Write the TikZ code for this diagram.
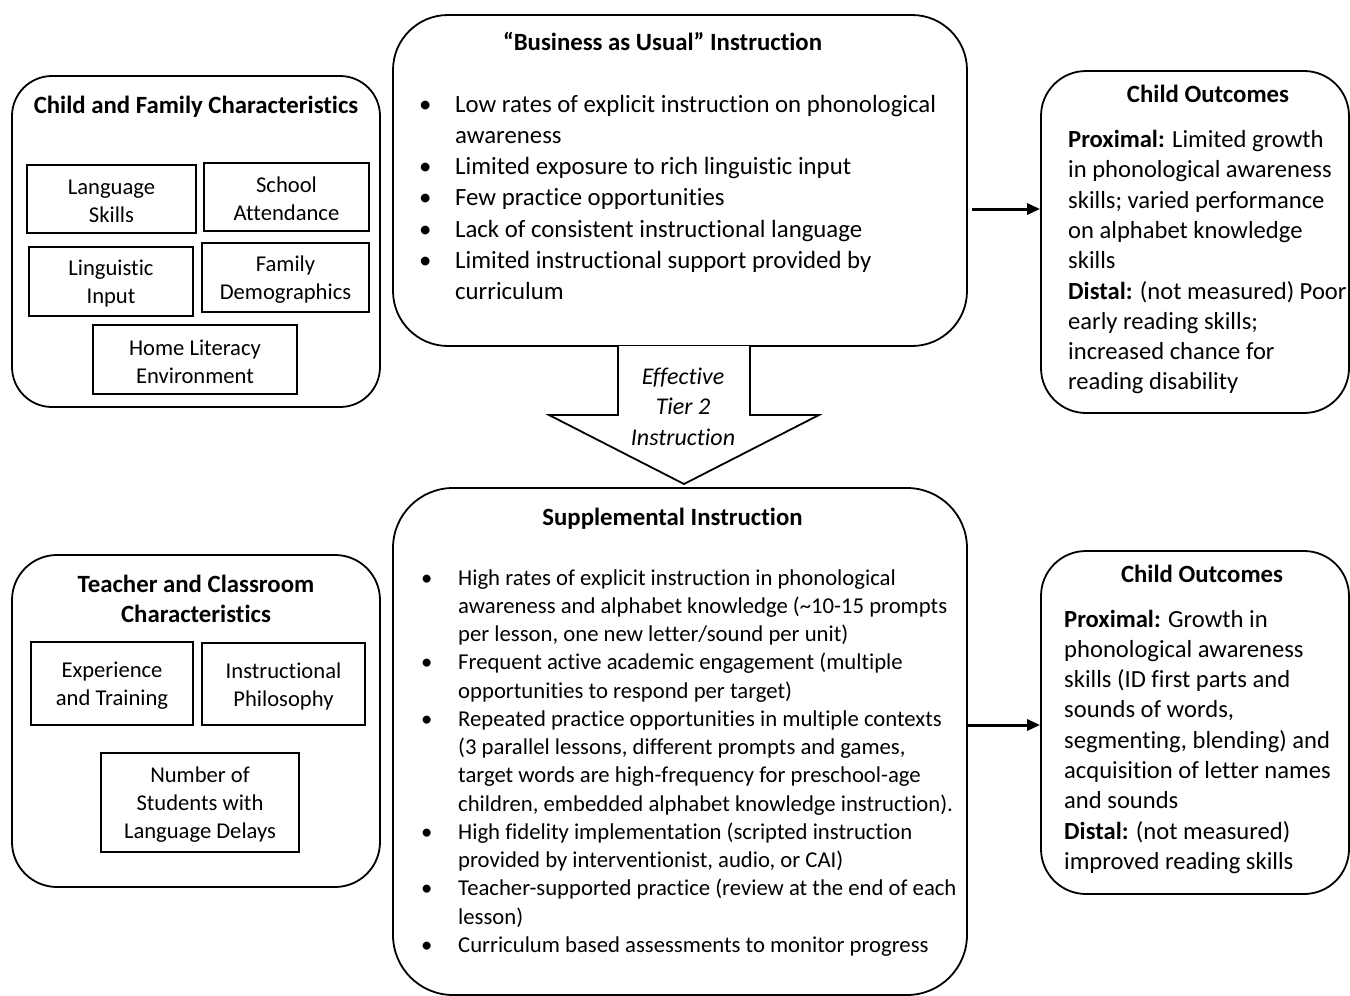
\documentclass[tikz,border=0pt]{standalone}
\usepackage{fontspec}
\setmainfont{Carlito}[Ligatures=NoCommon]
\usepackage{array}
\usetikzlibrary{arrows.meta}
\tikzset{
  outerbox/.style={draw=black, line width=1.8pt, fill=white, inner sep=0pt},
  innerbox/.style={draw=black, line width=1.3pt, inner sep=0pt},
  innertext/.style={inner sep=0pt, align=center, yshift=-2pt,
    font=\fontsize{22.6}{28}\selectfont},
  titletext/.style={inner sep=0pt, anchor=base, font=\fontsize{24.8}{30}\selectfont\bfseries},
  bodytext/.style={inner sep=0pt, anchor=base west},
  flowarrow/.style={line width=3pt, -{Triangle[length=13pt,width=11pt]}},
  blockarrow/.style={draw=black, line width=1.8pt, fill=white, line join=miter}
}
\begin{document}
\begin{tikzpicture}[x=1pt,y=-1pt]
\useasboundingbox (0,0) rectangle (1350,996);
\fill[white] (0,0) rectangle (1350,996);

% ---------- outer rounded boxes ----------
\node[outerbox, rounded corners=40pt, minimum width=368pt, minimum height=331pt] (cf) at (196,241.5) {};
\node[outerbox, rounded corners=55pt, minimum width=574pt, minimum height=331pt] (bau) at (680,180.5) {};
\node[outerbox, rounded corners=45pt, minimum width=308pt, minimum height=342pt] (co1) at (1195,242) {};
\node[outerbox, rounded corners=45pt, minimum width=368pt, minimum height=332pt] (tc) at (196,721) {};
\node[outerbox, rounded corners=60pt, minimum width=574pt, minimum height=507pt] (si) at (680,741.5) {};
\node[outerbox, rounded corners=45pt, minimum width=308pt, minimum height=343pt] (co2) at (1195,722.5) {};

% ---------- block arrow ----------
\draw[blockarrow] (618,346) -- (618,415) -- (549,415) -- (684,484) -- (819,415) -- (750,415) -- (750,346);
\node[inner sep=0pt, anchor=base, font=\fontsize{24}{30.5}\selectfont\itshape] (tier) at (683,384)
  {\begin{tabular}[t]{@{}c@{}}Effective\\Tier 2\\Instruction\end{tabular}};

% ---------- Child and Family ----------
\node[titletext] (cftitle) at (196,113) {Child and Family Characteristics};
\node[innerbox, minimum width=169pt, minimum height=68pt] (cf1) at (111.5,199) {};
\node[innertext] (cf1t) at (cf1.center) {Language\\Skills};
\node[innerbox, minimum width=165pt, minimum height=68pt] (cf2) at (286.5,197) {};
\node[innertext] (cf2t) at (cf2.center) {School\\Attendance};
\node[innerbox, minimum width=164pt, minimum height=69pt] (cf3) at (111,281.5) {};
\node[innertext] (cf3t) at (cf3.center) {Linguistic\\Input};
\node[innerbox, minimum width=167pt, minimum height=69pt] (cf4) at (285.5,277.5) {};
\node[innertext] (cf4t) at (cf4.center) {Family\\Demographics};
\node[innerbox, minimum width=204pt, minimum height=69pt] (cf5) at (195,359.5) {};
\node[innertext] (cf5t) at (cf5.center) {Home Literacy\\Environment};

% ---------- Business as usual ----------
\node[titletext] (bautitle) at (662.5,50) {“Business as Usual” Instruction};
\node[bodytext, font=\fontsize{24.8}{31.3}\selectfont] (baulist) at (419,112)
 {\begin{tabular}[t]{@{}p{36pt}@{}l@{}}
 \textbullet & Low rates of explicit instruction on phonological\\
  & awareness\\
 \textbullet & Limited exposure to rich linguistic input\\
 \textbullet & Few practice opportunities\\
 \textbullet & Lack of consistent instructional language\\
 \textbullet & Limited instructional support provided by\\
  & curriculum
 \end{tabular}};

% ---------- Child outcomes 1 ----------
\node[titletext] (co1title) at (1208,102) {Child Outcomes};
\node[bodytext, font=\fontsize{24.6}{30.3}\selectfont] (co1text) at (1068,147.5)
 {\begin{tabular}[t]{@{}l@{}}
 \textbf{Proximal:} Limited growth\\
 in phonological awareness\\
 skills; varied performance\\
 on alphabet knowledge\\
 skills\\
 \textbf{Distal:} (not measured) Poor\\
 early reading skills;\\
 increased chance for\\
 reading disability
 \end{tabular}};

% ---------- Teacher and Classroom ----------
\node[titletext] (tctitle) at (196,592)
 {\begin{tabular}[t]{@{}c@{}}Teacher and Classroom\\Characteristics\end{tabular}};
\node[innerbox, minimum width=162pt, minimum height=83pt] (tc1) at (112,683.5) {};
\node[innertext] (tc1t) at (tc1.center) {Experience\\and Training};
\node[innerbox, minimum width=163pt, minimum height=82pt] (tc2) at (283.5,684) {};
\node[innertext] (tc2t) at (tc2.center) {Instructional\\Philosophy};
\node[innerbox, minimum width=198pt, minimum height=99pt] (tc3) at (200,802.5) {};
\node[innertext] (tc3t) at (tc3.center) {Number of\\Students with\\Language Delays};

% ---------- Supplemental ----------
\node[titletext] (sititle) at (672.5,525) {Supplemental Instruction};
\node[bodytext, font=\fontsize{22.7}{28.25}\selectfont] (silist) at (421,585)
 {\begin{tabular}[t]{@{}p{37pt}@{}l@{}}
 \textbullet & High rates of explicit instruction in phonological\\
  & awareness and alphabet knowledge (\textasciitilde10-15 prompts\\
  & per lesson, one new letter/sound per unit)\\
 \textbullet & Frequent active academic engagement (multiple\\
  & opportunities to respond per target)\\
 \textbullet & Repeated practice opportunities in multiple contexts\\
  & (3 parallel lessons, different prompts and games,\\
  & target words are high-frequency for preschool-age\\
  & children, embedded alphabet knowledge instruction).\\
 \textbullet & High fidelity implementation (scripted instruction\\
  & provided by interventionist, audio, or CAI)\\
 \textbullet & Teacher-supported practice (review at the end of each\\
  & lesson)\\
 \textbullet & Curriculum based assessments to monitor progress
 \end{tabular}};

% ---------- Child outcomes 2 ----------
\node[titletext] (co2title) at (1202,582) {Child Outcomes};
\node[bodytext, font=\fontsize{24.6}{30.3}\selectfont] (co2text) at (1064,627)
 {\begin{tabular}[t]{@{}l@{}}
 \textbf{Proximal:} Growth in\\
 phonological awareness\\
 skills (ID first parts and\\
 sounds of words,\\
 segmenting, blending) and\\
 acquisition of letter names\\
 and sounds\\
 \textbf{Distal:} (not measured)\\
 improved reading skills
 \end{tabular}};

% ---------- connectors ----------
\coordinate (a1) at (972,209);
\draw[flowarrow] (a1) -- (a1 -| co1.west);
\coordinate (a2) at (967,725);
\draw[flowarrow] (a2) -- (a2 -| co2.west);
\end{tikzpicture}
\end{document}
